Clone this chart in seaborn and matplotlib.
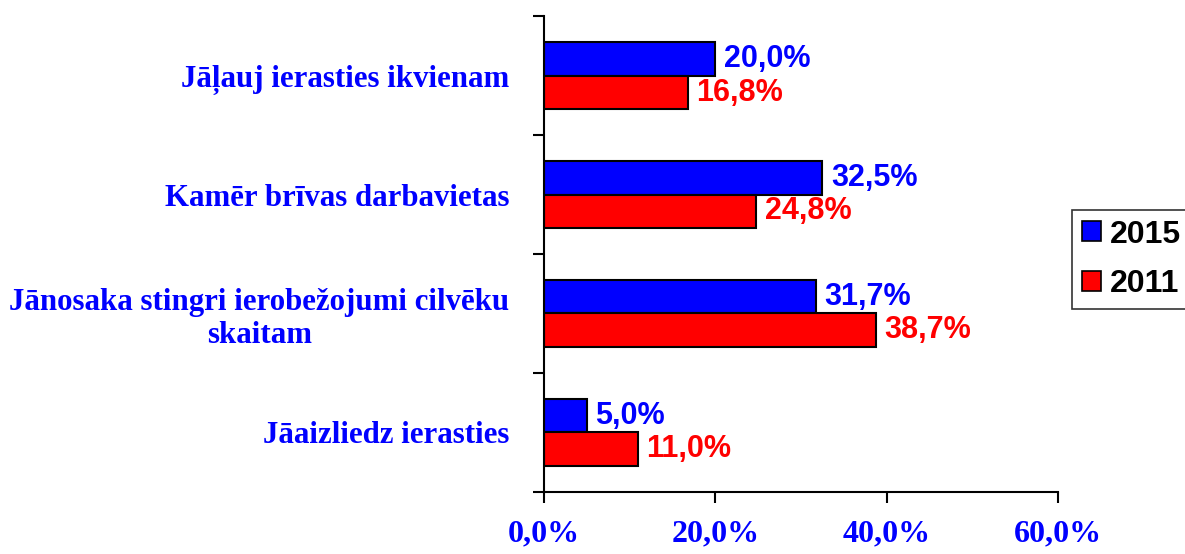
import pandas as pd
import seaborn as sns
import matplotlib.pyplot as plt
from matplotlib.ticker import FixedLocator, FuncFormatter

categories = ['Jāļauj ierasties ikvienam',
              'Kamēr brīvas darbavietas',
              'Jānosaka stingri ierobežojumi cilvēku\nskaitam',
              'Jāaizliedz ierasties']
years = ['2015', '2011']
values_2015 = [20.0, 32.5, 31.7, 5.0]
values_2011 = [16.8, 24.8, 38.7, 11.0]
colors = {'2015': '#0000FF', '2011': '#FF0000'}

df = pd.DataFrame({
    'kategorija': categories * 2,
    'gads': ['2015'] * 4 + ['2011'] * 4,
    'vertiba': values_2015 + values_2011,
})

sns.set_style('white')
plt.rcParams['font.family'] = ['Liberation Sans', 'DejaVu Sans']

fig, ax = plt.subplots(figsize=(11.85, 5.54), dpi=100)
fig.subplots_adjust(left=0.459, right=0.893, top=0.971, bottom=0.112)

sns.barplot(data=df, x='vertiba', y='kategorija', hue='gads', hue_order=years,
            palette=colors, saturation=1, orient='h', width=0.57, edgecolor='black',
            linewidth=1.5, ax=ax, legend=True)

for cont, yr in zip(ax.containers, years):
    vals = [b.get_width() for b in cont]
    ax.bar_label(cont, labels=[f'{v:.1f}%'.replace('.', ',') for v in vals],
                 padding=6, color=colors[yr], fontsize=22, fontweight='bold',
                 family=['Liberation Sans', 'DejaVu Sans'])

ax.set_xlim(0, 60)
ax.set_ylim(3.5, -0.5)
ax.set_xticks([0, 20, 40, 60])
ax.xaxis.set_major_formatter(FuncFormatter(lambda v, p: f'{v:.1f}%'.replace('.', ',')))
ax.set_xlabel('')
ax.set_ylabel('')

ax.yaxis.set_minor_locator(FixedLocator([-0.5, 0.5, 1.5, 2.5, 3.5]))
ax.tick_params(axis='y', which='major', length=0, pad=25)
ax.tick_params(axis='y', which='minor', left=True, length=8, width=1.5, color='black')
ax.tick_params(axis='x', which='major', bottom=True, length=8, width=1.5, color='black', pad=12)

for lbl in ax.get_yticklabels():
    lbl.set_family(['Liberation Serif', 'DejaVu Serif'])
    lbl.set_fontweight('bold')
    lbl.set_fontsize(22.2)
    lbl.set_color('#0000FF')
    lbl.set_multialignment('center')
for lbl in ax.get_xticklabels():
    lbl.set_family(['Liberation Serif', 'DejaVu Serif'])
    lbl.set_fontweight('bold')
    lbl.set_fontsize(23)
    lbl.set_color('#0000FF')

sns.despine(ax=ax, top=True, right=True)
for s in ['left', 'bottom']:
    ax.spines[s].set_linewidth(1.5)
    ax.spines[s].set_color('black')

ax.get_legend().remove()
handles = [plt.Rectangle((0, 0), 1, 1, facecolor=colors[y], edgecolor='black', linewidth=1.2)
           for y in years]
leg = fig.legend(handles, years, loc='upper left', bbox_to_anchor=(1072 / 1185, 1 - 210 / 554),
                 prop={'weight': 'bold', 'size': 23}, frameon=True, fancybox=False,
                 edgecolor='black', handlelength=0.6, handleheight=0.6, handletextpad=0.3,
                 borderpad=0.3, labelspacing=0.62, borderaxespad=0)
leg.get_frame().set_linewidth(1.2)
for t in leg.get_texts():
    t.set_color('black')

plt.savefig('out.png', dpi=100)
